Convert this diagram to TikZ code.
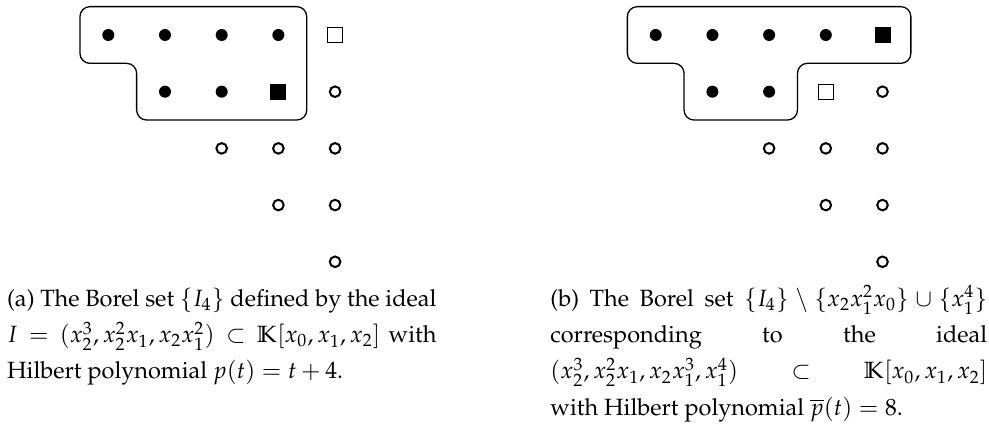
\documentclass[tikz,border=0pt]{standalone}
\usepackage[T1]{fontenc}
\usepackage{mathpazo}
\usepackage{tikz}
\usetikzlibrary{positioning}

\begin{document}
\begin{tikzpicture}[x=24.1pt,y=24.1pt]
\tikzset{
  bd/.style={circle,fill=black,inner sep=0pt,minimum size=5.1pt},
  ho/.style={circle,draw=black,line width=0.85pt,inner sep=0pt,minimum size=4.5pt},
  fs/.style={rectangle,fill=black,inner sep=0pt,minimum size=6.8pt},
  os/.style={rectangle,draw=black,line width=0.4pt,inner sep=0pt,minimum size=6.4pt},
  bl/.style={draw=black,line width=0.55pt,rounded corners=4.25pt},
  captxt/.style={anchor=north west,inner sep=0pt,text width=182.5pt,align=justify,font=\fontsize{10}{15.4}\selectfont}
}
\useasboundingbox (-1.910,-6.896) rectangle (15.533,0.617);
% (a) the Borel set {I_4}
\foreach \c in {0,...,3}{\node[bd] (a0\c) at (\c,0) {};}
\foreach \c in {1,2}{\node[bd] (a1\c) at (\c,-1) {};}
\node[os] (a04) at (4,0) {};
\node[fs] (a13) at (3,-1) {};
\foreach \r/\c in {1/4,2/2,2/3,2/4,3/3,3/4,4/4}{\node[ho] (a\r\c) at (\c,-\r) {};}
\draw[bl] (1.5,0.5) -- (3.5,0.5) -- (3.5,-1.5) -- (0.5,-1.5) -- (0.5,-0.5) -- (-0.5,-0.5) -- (-0.5,0.5) -- cycle;
% (b) after the swap
\begin{scope}[shift={(9.655,0)}]
\foreach \c in {0,...,3}{\node[bd] (b0\c) at (\c,0) {};}
\foreach \c in {1,2}{\node[bd] (b1\c) at (\c,-1) {};}
\node[fs] (b04) at (4,0) {};
\node[os] (b13) at (3,-1) {};
\foreach \r/\c in {1/4,2/2,2/3,2/4,3/3,3/4,4/4}{\node[ho] (b\r\c) at (\c,-\r) {};}
\draw[bl] (1.5,0.5) -- (4.5,0.5) -- (4.5,-0.5) -- (2.5,-0.5) -- (2.5,-1.5) -- (0.5,-1.5) -- (0.5,-0.5) -- (-0.5,-0.5) -- (-0.5,0.5) -- cycle;
\end{scope}
% captions
\node[captxt] (capa) at (-1.792,-4.333) {\strut(a) The Borel set $\{I_4\}$ defined by the ideal $I=(x_2^3,x_2^2x_1,x_2x_1^2)\subset\mathbb{K}[x_0,x_1,x_2]$ with Hilbert polynomial $p(t)=t+4$.};
\node[captxt,text width=185.7pt] (capb) at (7.790,-4.333) {\hbadness=10000\strut(b) The Borel set $\{I_4\}\setminus\{x_2x_1^2x_0\}\cup\{x_1^4\}$\linebreak corresponding to the ideal\linebreak $(x_2^3,x_2^2x_1,x_2x_1^3,x_1^4)\subset\mathbb{K}[x_0,x_1,x_2]$\linebreak with Hilbert polynomial $\overline{p}(t)=8$.};
\end{tikzpicture}
\end{document}
